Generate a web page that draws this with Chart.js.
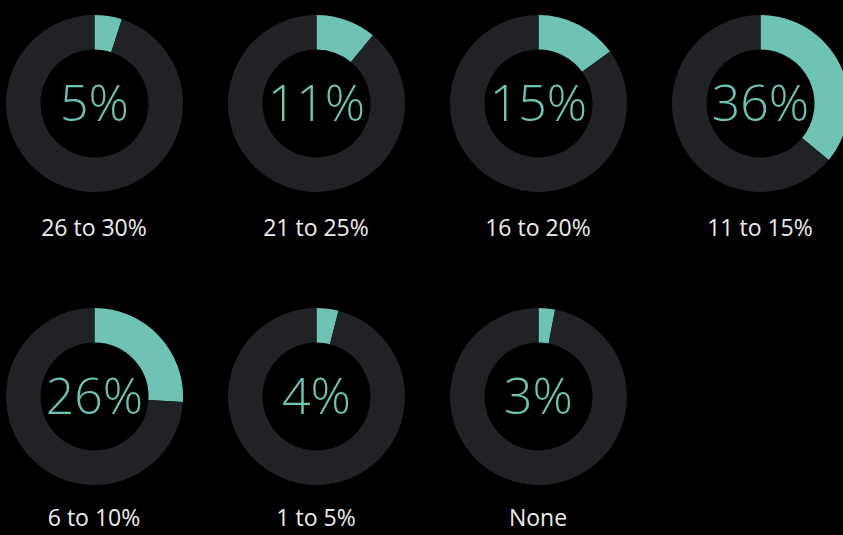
<!DOCTYPE html>
<html>
<head>
<meta charset="utf-8">
<script src="https://cdn.jsdelivr.net/npm/chart.js@4"></script>
<style>
  html, body { margin: 0; padding: 0; background: #000; }
  #board { position: relative; width: 843px; height: 535px; overflow: hidden; background: #000; }
  .cell { position: absolute; }
  .label {
    position: absolute; width: 222px; text-align: center;
    font-family: "Open Sans", sans-serif; font-size: 23px; line-height: 23px;
    color: #ececec;
  }
</style>
</head>
<body>
<div id="board"></div>
<script>
// share of respondents per bucket
const categories = ['26 to 30%', '21 to 25%', '16 to 20%', '11 to 15%', '6 to 10%', '1 to 5%', 'None'];
const shares = [5, 11, 15, 36, 26, 4, 3];

const colors = {
  fill: '#6fc3b5',
  track: '#212226',
  text: '#6fc3b5'
};

const colX = [94, 316, 538, 760];
const rowY = [103, 396];
// label baseline below each ring centre, per row
const labelDrop = [133, 130];
const size = 177;

// draws the big percentage in the hole
const centerTextPlugin = {
  id: 'centerText',
  afterDraw: (chart) => {
    const meta = chart.getDatasetMeta(0).data[0];
    if (!meta) return;
    const ctx = chart.ctx;
    ctx.save();
    ctx.font = '300 50px "Open Sans"';
    ctx.fillStyle = colors.text;
    ctx.textAlign = 'center';
    ctx.textBaseline = 'alphabetic';
    ctx.fillText(chart.options.plugins.centerText.text, meta.x, meta.y + 17);
    ctx.restore();
  }
};

const board = document.getElementById('board');

categories.forEach((name, i) => {
  const row = Math.floor(i / 4);
  const cx = colX[i % 4];
  const cy = rowY[row];

  const cell = document.createElement('div');
  cell.className = 'cell';
  cell.style.left = (cx - size / 2) + 'px';
  cell.style.top = (cy - size / 2) + 'px';
  cell.style.width = size + 'px';
  cell.style.height = size + 'px';
  const canvas = document.createElement('canvas');
  cell.appendChild(canvas);
  board.appendChild(cell);

  const label = document.createElement('div');
  label.className = 'label';
  label.textContent = name;
  label.style.left = (cx - 111) + 'px';
  label.style.top = (cy + labelDrop[row] - 20.4) + 'px';
  board.appendChild(label);

  new Chart(canvas, {
    type: 'doughnut',
    data: {
      labels: [name, 'rest'],
      datasets: [{
        data: [shares[i], 100 - shares[i]],
        backgroundColor: [colors.fill, colors.track],
        borderWidth: 0
      }]
    },
    options: {
      responsive: true,
      maintainAspectRatio: false,
      animation: false,
      cutout: '61%',
      layout: { padding: 0 },
      plugins: {
        legend: { display: false },
        tooltip: { enabled: false },
        centerText: { text: shares[i] + '%' }
      }
    },
    plugins: [centerTextPlugin]
  });
});
</script>
</body>
</html>
